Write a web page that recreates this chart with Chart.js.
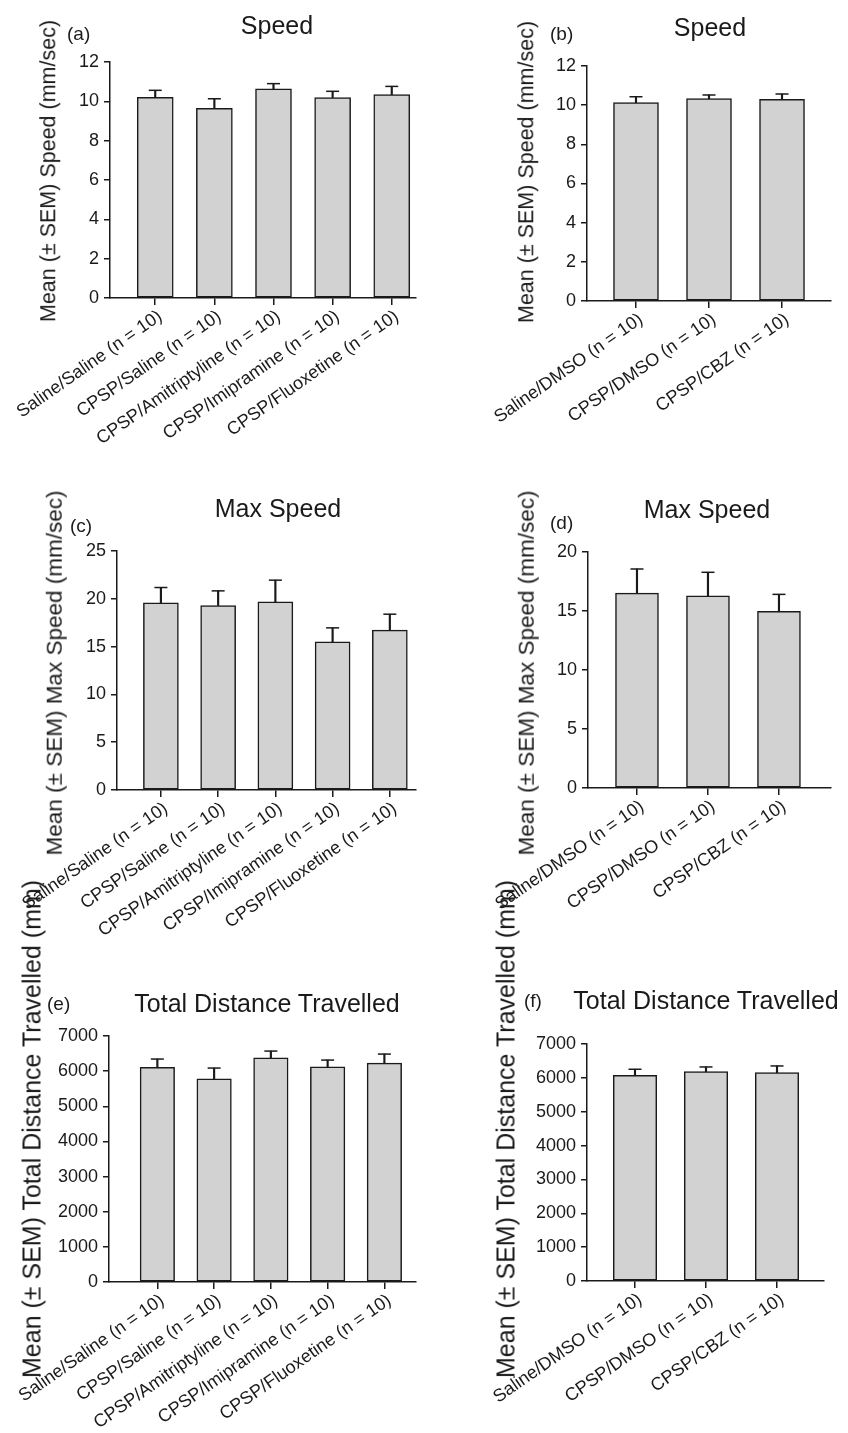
<!DOCTYPE html>
<html>
<head>
<meta charset="utf-8">
<script src="https://cdn.jsdelivr.net/npm/chart.js@4.4.0/dist/chart.umd.min.js"></script>
<style>
    body { margin: 0; background: #fff; width: 848px; height: 1433px; position: relative; overflow: hidden;
           font-family: "Liberation Sans", Arial, sans-serif; color: #1a1a1a; }
    canvas { position: absolute; }
    .txt { position: absolute; white-space: nowrap; line-height: 1; }
    .titulo { font-size: 25px; transform: translate(-50%, -50%); }
    .letra { font-size: 19px; transform: translateY(-50%); }
    .ylab { transform: translate(-50%, -50%) rotate(-90deg); }
</style>
</head>
<body>
<script>
// datos
const gruposAntidep = ['Saline/Saline (n = 10)', 'CPSP/Saline (n = 10)', 'CPSP/Amitriptyline (n = 10)', 'CPSP/Imipramine (n = 10)', 'CPSP/Fluoxetine (n = 10)']
const gruposCbz = ['Saline/DMSO (n = 10)', 'CPSP/DMSO (n = 10)', 'CPSP/CBZ (n = 10)']

const velocidadA = [10.2, 9.65, 10.63, 10.19, 10.34]
const semVelocidadA = [0.36, 0.48, 0.27, 0.32, 0.42]
const velocidadB = [10.13, 10.33, 10.3]
const semVelocidadB = [0.3, 0.19, 0.27]

const velMaxC = [19.57, 19.3, 19.68, 15.49, 16.72]
const semVelMaxC = [1.61, 1.53, 2.27, 1.47, 1.67]
const velMaxD = [16.52, 16.29, 14.97]
const semVelMaxD = [2.04, 1.99, 1.44]

const distanciaE = [6108, 5784, 6381, 6125, 6230]
const semDistanciaE = [236, 304, 190, 190, 256]
const distanciaF = [6077, 6183, 6154]
const semDistanciaF = [177, 139, 198]

const ejeVelocidad = { max: 12, paso: 2 }
const ejeVelMaxC = { max: 25, paso: 5 }
const ejeVelMaxD = { max: 20, paso: 5 }
const ejeDistancia = { max: 7000, paso: 1000 }

const ylabVelocidad = 'Mean (± SEM) Speed (mm/sec)'
const ylabVelMax = 'Mean (± SEM) Max Speed (mm/sec)'
const ylabDistancia = 'Mean (± SEM) Total Distance Travelled (mm)'

const color = '#1a1a1a'
const fuente = '"Liberation Sans", Arial, sans-serif'

const paneles = [
    { letra: '(a)', titulo: 'Speed', cats: gruposAntidep, medias: velocidadA, sem: semVelocidadA, eje: ejeVelocidad, ylab: ylabVelocidad,
      caja: [0, 0, 424, 470], area: [110, 62, 418, 298], xMin: -0.765, xMax: 4.41, barra: 36,
      posTitulo: [277, 25], posLetra: [67, 33], posYlab: [49, 171], tamYlab: 21.5 },
    { letra: '(b)', titulo: 'Speed', cats: gruposCbz, medias: velocidadB, sem: semVelocidadB, eje: ejeVelocidad, ylab: ylabVelocidad,
      caja: [424, 0, 424, 470], area: [163, 66, 407, 301], xMin: -0.671, xMax: 2.671, barra: 45,
      posTitulo: [710, 27], posLetra: [550, 33], posYlab: [527, 172], tamYlab: 21.5 },
    { letra: '(c)', titulo: 'Max Speed', cats: gruposAntidep, medias: velMaxC, sem: semVelMaxC, eje: ejeVelMaxC, ylab: ylabVelMax,
      caja: [0, 470, 424, 480], area: [117, 81, 420, 320], xMin: -0.767, xMax: 4.457, barra: 35,
      posTitulo: [278, 508], posLetra: [70, 525], posYlab: [55, 673], tamYlab: 22.5 },
    { letra: '(d)', titulo: 'Max Speed', cats: gruposCbz, medias: velMaxD, sem: semVelMaxD, eje: ejeVelMaxD, ylab: ylabVelMax,
      caja: [424, 470, 424, 480], area: [164, 82, 407, 318], xMin: -0.69, xMax: 2.733, barra: 43,
      posTitulo: [707, 509], posLetra: [550, 522], posYlab: [527, 673], tamYlab: 22.5 },
    { letra: '(e)', titulo: 'Total Distance Travelled', cats: gruposAntidep, medias: distanciaE, sem: semDistanciaE, eje: ejeDistancia, ylab: ylabDistancia,
      caja: [0, 950, 424, 483], area: [109, 86, 420, 332], xMin: -0.852, xMax: 4.557, barra: 34.5,
      posTitulo: [267, 1003], posLetra: [47, 1003], posYlab: [32, 1129], tamYlab: 25 },
    { letra: '(f)', titulo: 'Total Distance Travelled', cats: gruposCbz, medias: distanciaF, sem: semDistanciaF, eje: ejeDistancia, ylab: ylabDistancia,
      caja: [424, 950, 424, 483], area: [163, 94, 400, 331], xMin: -0.676, xMax: 2.662, barra: 43.5,
      posTitulo: [706, 1000], posLetra: [524, 1000], posYlab: [506, 1129], tamYlab: 25 }
]

paneles.forEach(p => {
    generar_grafico(p)
    poner_textos(p)
})

function poner_texto(texto, clase, x, y, tam) {
    const div = document.createElement('div')
    div.className = 'txt ' + clase
    div.textContent = texto
    div.style.left = x + 'px'
    div.style.top = y + 'px'
    if (tam) div.style.fontSize = tam + 'px'
    document.body.appendChild(div)
}

function poner_textos(p) {
    poner_texto(p.titulo, 'titulo', p.posTitulo[0], p.posTitulo[1])
    poner_texto(p.letra, 'letra', p.posLetra[0], p.posLetra[1])
    poner_texto(p.ylab, 'ylab', p.posYlab[0], p.posYlab[1], p.tamYlab)
}

function generar_grafico(p) {
    const [cx, cy, cw, ch] = p.caja
    const [al, at, ar, ab] = p.area
    const canvas = document.createElement('canvas')
    canvas.width = cw
    canvas.height = ch
    canvas.style.left = cx + 'px'
    canvas.style.top = cy + 'px'
    canvas.style.width = cw + 'px'
    canvas.style.height = ch + 'px'
    document.body.appendChild(canvas)

    const barras = p.cats.map((c, i) => ({ x: i, y: p.medias[i] }))
    const tallos = p.cats.map((c, i) => ({ x: i, y: [p.medias[i], p.medias[i] + p.sem[i]] }))
    const topes = p.cats.map((c, i) => ({ x: i, y: p.medias[i] + p.sem[i] }))

    const data = {
        datasets: [
            { type: 'scatter', data: topes, pointStyle: 'line', pointRadius: 6.5, pointHoverRadius: 6.5,
              borderColor: color, borderWidth: 1.5, order: 0 },
            { data: tallos, grouped: false, barThickness: 1.5, backgroundColor: color, borderWidth: 0, order: 1 },
            { data: barras, grouped: false, barThickness: p.barra, backgroundColor: '#d2d2d2',
              borderColor: color, borderWidth: 1.5, borderSkipped: false, order: 2 }
        ]
    }

    const config = {
        type: 'bar',
        data: data,
        options: {
            responsive: false,
            animation: false,
            events: [],
            layout: { padding: { left: 0, top: at, right: cw - ar, bottom: 0 } },
            plugins: { legend: { display: false }, tooltip: { enabled: false } },
            scales: {
                x: {
                    type: 'linear', min: p.xMin, max: p.xMax, bounds: 'data', offset: false,
                    afterBuildTicks: s => { s.ticks = p.cats.map((c, i) => ({ value: i })) },
                    afterFit: s => { s.height = ch - ab; s.paddingLeft = 0; s.paddingRight = 0 },
                    ticks: { autoSkip: false, minRotation: 35, maxRotation: 35, padding: 1, labelOffset: 5, color: color,
                             font: { family: fuente, size: 18 }, callback: v => p.cats[v] },
                    grid: { offset: false, drawOnChartArea: false, tickLength: 7, color: color, lineWidth: 1.5 },
                    border: { color: color, width: 1.5 }
                },
                y: {
                    min: 0, max: p.eje.max,
                    afterFit: s => { s.width = al },
                    ticks: { stepSize: p.eje.paso, padding: 5, color: color,
                             font: { family: fuente, size: 18 }, callback: v => String(v) },
                    grid: { drawOnChartArea: false, tickLength: 6, color: color, lineWidth: 1.5 },
                    border: { color: color, width: 1.5 }
                }
            }
        }
    }

    new Chart(canvas, config)
}
</script>
</body>
</html>
